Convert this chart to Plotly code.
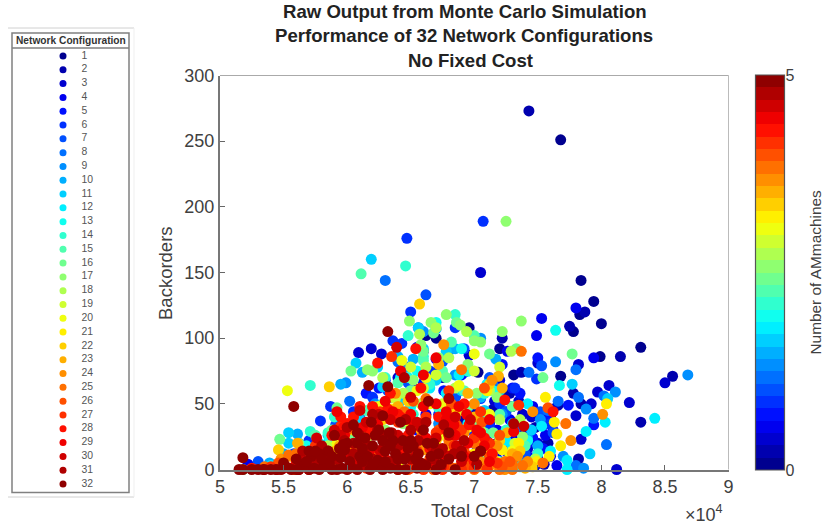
import plotly.graph_objects as go

c01 = [7.68,7.84,7.94,7.83,8.00,7.78,7.99,8.31,7.68,7.31,7.03,7.25,6.96,7.45,7.60,7.20,6.88,6.70,7.40,7.12,7.55,6.80,7.30,7.05,6.62]
b01 = [251,144,128,118,111,105,86,93,71,72,74,60,108,25,40,92,62,100,12,35,18,30,48,22,102]
c02 = [7.43,7.87,7.75,8.15,8.56,8.31,7.37,7.78,7.84,7.66,7.82,7.22,7.10,7.00,7.28,7.48,7.58,6.90,7.18,6.75,7.35,7.52,6.60,7.05,7.25,7.40,7.50,7.55,7.15]
b02 = [273,120,109,86,71,36,74,58,50,49,8,100,63,45,58,32,20,38,20,70,10,42,90,28,18,28,8,4,46]
c03 = [7.05,7.50,7.82,8.50,8.06,7.97,8.22,7.92,7.80,7.84,8.12,6.19,6.09,6.27,6.96,7.20,7.35,7.62,7.42,6.85,7.12,7.26,6.72,6.55,6.40,7.48,7.38,7.44,7.30,7.16,7.10,7.50,7.34,7.45]
b03 = [150,81,80,66,64,59,51,50,41,23,0,92,89,88,87,68,52,46,16,55,40,28,75,61,70,3,42,30,36,52,30,20,6,40]
c04 = [7.80,7.53,7.49,7.94,7.65,7.26,7.38,7.10,6.92,6.70,6.55,7.00,7.46,7.18,6.85,6.30,6.45,7.30,5.22,7.56,6.62,7.02,7.34,7.42,7.50,7.24,7.18,7.28,7.60,7.44]
b04 = [123,115,102,85,3,90,12,60,74,84,93,35,48,30,56,65,57,24,4,26,42,18,20,10,12,44,8,38,10,4]
c05 = [7.94,7.74,7.50,7.22,7.58,6.90,7.30,7.10,6.60,6.35,6.45,6.76,7.02,6.25,7.42,7.15,6.80,6.15,6.55,7.36,7.46,7.54,7.62,7.10,7.30,7.25]
b05 = [34,49,85,80,38,72,48,42,66,55,78,60,25,62,20,14,38,58,30,58,24,16,30,22,62,14]
c06 = [7.07,6.47,6.50,7.49,6.43,5.87,5.79,6.36,6.85,7.05,7.32,6.65,6.20,7.60,6.95,6.30,5.70,6.05,7.18,6.72,5.62,7.40,6.88,7.55,7.12,7.20]
b06 = [189,176,120,69,96,48,37,98,108,54,62,75,55,35,30,68,22,44,16,42,20,6,62,34,34,50]
c07 = [7.53,5.30,5.91,6.62,6.92,7.12,6.32,7.62,7.25,6.75,6.10,6.48,5.80,7.40,7.00,6.25,6.85,5.58,7.52,7.34]
b07 = [79,6,34,133,92,70,60,28,44,82,40,66,18,12,20,30,55,12,44,34]
c08 = [6.30,7.80,7.82,7.43,7.94,8.04,7.80,8.02,6.56,7.15,7.32,6.80,6.40,6.95,7.58,7.28,6.02,5.75,7.48,7.66]
b08 = [144,76,55,74,39,19,3,56,108,64,30,90,82,47,45,16,52,14,8,52]
c09 = [8.68,7.64,8.11,7.88,7.86,5.99,6.60,7.05,6.48,7.22,6.85,7.42,6.22,5.85,6.72,7.70,7.28,7.52]
b09 = [72,82,59,46,1,66,105,100,78,42,72,24,50,20,35,10,8,38]
c10 = [7.17,5.39,5.61,5.95,6.40,6.52,6.70,6.12,7.05,7.30,6.85,5.50,6.28,7.50,6.00,7.38]
b10 = [84,5,27,65,86,84,107,74,55,35,92,12,48,18,26,4]
c11 = [6.19,7.77,8.05,7.91,6.07,6.24,6.56,6.60,6.78,5.54,5.54,5.85,6.28,7.20,6.95,6.42,7.45,5.66,6.10,6.80,7.34,6.50,6.90,7.08,6.70]
b11 = [160,65,54,12,81,78,108,92,90,28,20,26,63,60,75,52,30,14,38,44,14,60,60,45,68]
c12 = [8.42,8.03,7.88,7.73,7.73,7.53,6.35,6.88,7.10,6.50,5.78,6.65,7.30,7.02,7.60,6.15,5.40,7.42,7.20,6.42,6.78,6.95,7.25]
b12 = [39,36,29,0,7,33,56,72,65,48,20,62,18,40,14,30,3,50,6,70,58,35,22]
c13 = [7.64,6.70,7.67,5.86,6.90,6.48,7.15,6.25,5.68,6.60,6.02,7.42,7.05,5.50,7.36,6.55,7.00,6.85,6.35]
b13 = [106,112,64,24,92,70,60,42,18,35,32,22,10,8,2,75,50,32,38]
c14 = [6.46,6.48,5.71,5.71,5.85,6.85,6.60,7.08,6.30,6.72,5.90,7.25,6.42,7.50,6.95,6.65,7.10,6.28,6.52]
b14 = [155,102,64,29,28,118,86,58,70,47,40,30,24,12,75,65,40,50,42]
c15 = [6.11,6.82,7.00,6.40,6.60,5.75,6.15,7.20,6.92,6.52,5.48,7.40,6.05,6.75,6.50,7.08,6.25]
b15 = [149,97,102,66,83,26,45,42,60,34,4,18,28,75,52,28,36]
c16 = [7.54,7.77,7.33,5.92,6.03,5.47,6.02,6.68,6.86,7.12,6.50,6.22,5.88,7.00,7.30,6.78,5.18,6.60,6.95,6.40,7.15]
b16 = [70,88,92,47,75,23,22,104,112,88,60,48,30,34,48,70,0,90,48,40,28]
c17 = [7.25,6.49,7.37,7.22,7.00,6.78,6.66,6.89,6.20,6.16,7.05,6.58,6.35,6.95,7.18,5.62,5.75,6.44,7.38,6.72,6.52,7.02,6.30]
b17 = [189,113,113,105,98,118,112,110,75,76,97,95,55,80,55,20,14,35,25,85,68,58,30]
c18 = [6.57,6.70,6.28,7.29,6.94,6.80,7.12,6.44,6.62,7.36,6.05,7.05,5.85,7.48,6.85,6.58,7.20,6.15]
b18 = [103,108,70,90,105,85,60,58,78,38,34,30,18,8,62,50,38,22]
c19 = [6.60,6.38,7.00,6.75,7.20,6.48,6.90,6.12,5.98,7.32,5.70,6.70,6.50,6.82,7.10,6.25]
b19 = [62,54,75,50,78,40,45,26,24,20,8,72,78,35,16,28]
c20 = [5.53,6.43,6.62,6.88,7.12,7.00,6.25,6.50,5.92,6.72,7.30,6.10,7.18,6.40,6.78,6.95,6.55,7.05]
b20 = [60,83,70,64,42,88,48,35,20,25,14,30,6,4,50,32,60,20]
c21 = [8.04,7.59,7.68,7.65,7.63,7.56,7.49,7.35,7.10,6.90,6.65,7.22,6.35,7.00,7.42,7.28,7.14,6.78,6.52,7.04]
b21 = [50,10,18,27,36,55,6,20,60,30,50,15,46,12,2,10,4,16,8,2]
c22 = [6.57,5.86,5.46,5.90,6.48,7.12,6.85,6.28,7.30,6.70,6.05,7.46,5.62,7.20,6.92,7.36,6.60,6.15,7.08]
b22 = [126,63,15,14,52,65,44,38,8,22,30,2,4,22,6,14,4,2,14]
c23 = [7.19,7.22,5.61,6.72,6.40,6.95,6.20,7.30,5.76,6.58,7.05,5.94,7.40,6.82,7.14,6.50,7.26,6.68,7.00]
b23 = [71,62,20,80,48,58,35,12,8,30,24,18,1,14,10,20,28,6,40]
c24 = [7.76,8.01,7.46,7.14,6.76,6.38,7.00,6.56,6.20,5.80,6.85,7.28,5.55,7.18,6.92,6.46,7.08,6.74,7.34,5.48,7.24,7.12,7.42,7.05,6.90,6.60,5.70]
b24 = [22,42,44,68,95,58,50,35,27,10,40,3,10,18,28,12,2,8,10,8,0,3,6,6,10,15,12]
c25 = [7.72,7.37,7.54,5.54,6.90,6.62,6.25,7.00,6.45,6.05,5.66,7.24,5.35,7.14,6.80,6.55,7.30,6.98,6.32,7.10,5.60,7.20,7.00,7.30,7.38,6.85,6.40]
b25 = [35,90,5,11,76,54,30,20,44,16,8,6,2,12,22,6,4,8,20,2,12,0,0,0,3,1,0]
c26 = [7.58,5.46,6.52,7.08,6.82,6.30,6.00,6.65,7.20,5.82,6.42,5.58,6.92,7.12,6.72,6.58,7.00,6.22,5.92,6.86,7.06,6.48,7.10,7.22,7.28,6.95,6.80,6.68,6.55]
b26 = [47,5,52,62,50,42,30,8,26,12,18,0,14,10,30,24,2,10,6,34,36,0,0,2,6,3,3,0,4]
c27 = [7.35,6.35,6.62,5.95,6.80,7.05,6.18,5.75,6.48,6.95,6.28,5.40,7.18,6.05,6.70,6.90,6.55,6.40,6.12,6.84,7.00,6.62,7.12,6.26,6.76,6.60,6.75,6.90,7.00,7.10,6.50,6.30,6.15]
b27 = [49,86,40,33,60,44,30,18,22,10,6,2,5,12,28,30,14,36,8,18,24,4,20,44,2,0,0,0,1,0,1,2,1]
c28 = [7.62,7.24,6.24,6.54,5.95,6.20,6.58,6.92,6.10,6.78,5.60,6.40,7.08,5.82,6.65,6.30,5.25,7.00,5.70,6.48,6.86,6.34,6.72,6.96,6.16,6.56,5.88,7.14,6.02,6.44,5.97,6.00,6.05,6.10,6.18,6.22,6.32,6.42]
b28 = [44,53,81,92,40,48,62,50,20,30,5,42,24,10,16,8,1,6,0,26,12,58,40,34,4,2,26,12,34,14,32,35,40,48,30,38,46,40]
c29 = [6.42,7.31,6.60,6.70,6.88,6.30,5.98,6.52,6.18,7.02,5.85,6.75,6.38,5.50,6.95,7.12,5.62,6.08,6.62,6.84,6.24,6.46,6.68,6.12,6.36,6.78,5.74,6.92,6.54,7.08,5.92,6.50,6.60,6.70,6.78,6.85,6.94,7.05,7.12]
b29 = [75,29,72,85,48,52,26,36,15,30,14,12,5,1,20,38,0,6,24,34,34,18,6,32,44,44,6,10,10,18,44,42,48,50,38,26,42,28,6]
c30 = [6.39,7.39,5.76,6.97,6.85,6.50,6.30,6.10,6.66,5.90,6.40,6.80,7.05,6.20,5.72,5.45,6.58,6.02,6.90,6.34,6.72,6.14,6.46,5.84,6.62,6.26,6.54,5.98,6.38,6.86,6.08,6.74,5.64,6.00,6.15,6.40,6.55,6.70,6.80,6.25,5.95]
b30 = [93,33,24,38,40,55,25,45,18,30,10,26,14,6,3,0,32,1,6,38,12,24,20,8,4,14,10,18,2,18,8,2,8,10,36,26,36,24,10,42,26]
c31 = [7.31,6.76,6.80,6.45,6.20,6.62,5.98,6.35,6.05,6.75,5.80,6.50,6.15,5.65,6.92,5.35,6.28,5.55,7.02,6.40,6.10,6.56,6.24,5.92,6.68,6.00,6.34,5.74,6.46,6.84,5.86,6.16,6.60,6.05,6.30,6.50,6.70,6.90,5.82,6.20]
b31 = [35,34,54,70,42,36,22,28,12,16,18,8,2,14,22,0,16,1,4,18,26,22,30,8,8,32,6,6,38,12,4,18,2,20,24,30,14,14,12,8]
c32 = [6.32,6.17,6.32,5.58,5.18,5.15,6.64,7.05,6.05,6.25,6.42,6.60,5.90,6.14,6.36,5.72,5.98,6.52,6.80,6.72,5.85,6.10,
       5.18,5.25,5.30,5.34,5.40,5.44,5.48,5.52,5.56,5.62,5.65,5.70,5.74,5.78,5.82,5.88,5.92,5.96,6.00,6.03,6.08,6.18,6.22,6.28,6.34,6.40,6.46,6.55,6.62,
       5.60,5.68,5.78,5.86,5.95,6.12,6.24,6.46,6.58,6.90,
       6.00,6.20,6.30,6.48,6.08,5.94,6.16,6.38,6.54,6.28,5.80,6.44,6.68,6.22,6.02,6.34,6.12,6.56,5.88,6.74,6.40,6.20,5.70,
       5.50,5.75,5.97,6.08,6.19,6.28,6.33,6.50,6.63,6.45,6.66,7.00,6.80,6.30,5.60,6.70,6.85]
b32 = [105,64,63,48,9,0,52,14,34,30,36,30,26,24,22,10,15,18,28,12,14,10,
       0,0,0,0,0,0,0,2,0,0,4,0,1,0,3,0,0,1,0,2,0,0,3,0,1,0,0,1,3,
       8,6,12,5,9,6,7,9,5,10,
       20,18,14,16,28,16,10,12,8,22,8,22,20,26,6,18,16,12,10,4,8,4,14,
       5,14,19,20,36,41,28,22,20,8,10,10,8,6,0,0,0]

all_cost = [c01,c02,c03,c04,c05,c06,c07,c08,c09,c10,c11,c12,c13,c14,c15,c16,c17,c18,c19,c20,c21,c22,c23,c24,c25,c26,c27,c28,c29,c30,c31,c32]
all_back = [b01,b02,b03,b04,b05,b06,b07,b08,b09,b10,b11,b12,b13,b14,b15,b16,b17,b18,b19,b20,b21,b22,b23,b24,b25,b26,b27,b28,b29,b30,b31,b32]
config_ids = list(range(1, 33))
x_ticks = [5, 5.5, 6, 6.5, 7, 7.5, 8, 8.5, 9]
x_tick_text = ["5", "5.5", "6", "6.5", "7", "7.5", "8", "8.5", "9"]
y_ticks = [0, 50, 100, 150, 200, 250, 300]
title_lines = ["Raw Output from Monte Carlo Simulation", "Performance of 32 Network Configurations", "No Fixed Cost"]
bar_levels = [i / 32 * 5 for i in range(33)]

W, H = 823, 527
GREY = "#404040"
FONT = "Liberation Sans"


def jet(i, n=32):
    t = (i + 0.5) / n
    def ch(c):
        return max(0.0, min(1.0, 1.5 - abs(4 * t - c)))
    return "rgb(%d,%d,%d)" % (round(255 * ch(3)), round(255 * ch(2)), round(255 * ch(1)))


colors = [jet(i) for i in range(32)]
scale = []
for i, c in enumerate(colors):
    scale += [[i / 32, c], [(i + 1) / 32, c]]


def fx(p):
    return p / W


def fy(p):
    return 1 - p / H


def note(text, px, py, size, color=GREY, angle=0):
    return dict(text=text, x=fx(px), y=fy(py), xref="paper", yref="paper", showarrow=False,
                xanchor="center", yanchor="middle", textangle=angle,
                font=dict(family=FONT, size=size, color=color))


def rule(px0, py0, px1, py1, color, width):
    return dict(type="line", xref="paper", yref="paper", x0=fx(px0), x1=fx(px1), y0=fy(py0), y1=fy(py1),
                line=dict(color=color, width=width))


fig = go.Figure()
for i, cid in enumerate(config_ids):
    fig.add_trace(go.Scatter(
        x=all_cost[i], y=all_back[i], mode="markers", showlegend=False, cliponaxis=False,
        marker=dict(size=11, color=colors[i], line=dict(width=0)), name=str(cid)))

# colour bar, 32 bands on its own axes
fig.add_trace(go.Heatmap(
    x=[0, 1], y=bar_levels, z=[[(a + b) / 2] * 1 for a, b in zip(bar_levels[:-1], bar_levels[1:])],
    xaxis="x3", yaxis="y3", zmin=0, zmax=5, colorscale=scale, showscale=False, hoverinfo="skip"))

# legend panel, drawn on its own axes
fig.add_trace(go.Scatter(
    x=[0.0] * 32, y=config_ids, xaxis="x2", yaxis="y2", mode="markers", showlegend=False,
    marker=dict(size=7, color=colors)))
fig.add_trace(go.Scatter(
    x=[18.5] * 32, y=config_ids, xaxis="x2", yaxis="y2", mode="text", showlegend=False,
    text=[str(c) for c in config_ids], textposition="middle right",
    textfont=dict(family=FONT, size=10.4, color="#555555")))

fig.update_layout(
    width=W, height=H, autosize=False, margin=dict(l=0, r=0, t=0, b=0, autoexpand=False),
    plot_bgcolor="white", paper_bgcolor="white", font=dict(family=FONT, color=GREY),
    xaxis=dict(domain=[fx(220), fx(728.5)], range=[5, 9], tickvals=x_ticks, ticktext=x_tick_text,
               ticks="inside", ticklen=5, tickcolor="#666666", showgrid=False, zeroline=False,
               showline=True, linecolor="#777777", linewidth=2, mirror=False,
               tickfont=dict(family=FONT, size=18, color=GREY)),
    yaxis=dict(domain=[fy(469.5), fy(75.5)], range=[0, 300], tickvals=y_ticks,
               ticks="inside", ticklen=5, tickcolor="#666666", showgrid=False, zeroline=False,
               showline=True, linecolor="#777777", linewidth=2, mirror=False,
               tickfont=dict(family=FONT, size=18, color=GREY)),
    xaxis2=dict(domain=[fx(12), fx(129)], range=[-51, 66], visible=False, fixedrange=True),
    yaxis2=dict(domain=[fy(492), fy(49)], range=[32.58, 0.493], visible=False, fixedrange=True),
    xaxis3=dict(domain=[fx(755.5), fx(784.5)], range=[0, 1], visible=False, fixedrange=True),
    yaxis3=dict(domain=[fy(470), fy(75)], range=[0, 5], fixedrange=True, side="right", anchor="x3",
                tickvals=[0, 5], ticktext=["0", "5"], ticks="", showgrid=False, zeroline=False,
                showline=False, tickfont=dict(family=FONT, size=16, color=GREY)),
    shapes=[
        dict(type="rect", xref="paper", yref="paper", x0=fx(12), x1=fx(129), y0=fy(492.5), y1=fy(33),
             line=dict(color="#808080", width=1.5), fillcolor="rgba(0,0,0,0)"),
        rule(12, 48, 129, 48, "#808080", 1.5),
        rule(8, 28, 134, 28, "#d0d0d0", 1),
        rule(8, 497, 134, 497, "#d0d0d0", 1),
        rule(134, 28, 134, 497, "#efefef", 1),
        rule(728.5, 469.5, 728.5, 75.5, "#bbbbbb", 1),
        rule(220, 75.5, 728.5, 75.5, "#aaaaaa", 1),
        dict(type="rect", xref="paper", yref="paper", x0=fx(755.5), x1=fx(784.5), y0=fy(470), y1=fy(75),
             line=dict(color="#555555", width=1.2), fillcolor="rgba(0,0,0,0)"),
    ],
    annotations=[
        note("<b>" + title_lines[0] + "</b>", 465, 11.5, 18.6, "#222222"),
        note("<b>" + title_lines[1] + "</b>", 464.5, 35, 18.6, "#222222"),
        note("<b>" + title_lines[2] + "</b>", 470.5, 60, 18.6, "#222222"),
        note("Total Cost", 472, 510, 18.5),
        note("Backorders", 165, 273, 18.5, angle=-90),
        note("Number of AMmachines", 814.5, 272, 15.4, angle=-90),
        note("×10<sup>4</sup>", 704, 513, 18),
        note("<b>Network Configuration</b>", 71, 41, 10.2, "#333333"),
    ],
)

fig.write_html("out.html", config=dict(displayModeBar=False),
               post_script="document.body.style.margin='0';document.body.style.overflow='hidden';")
